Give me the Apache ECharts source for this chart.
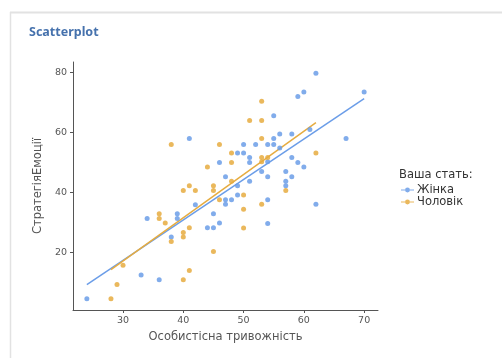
<!DOCTYPE html>
<html>
<head>
<meta charset="utf-8">
<script src="https://cdn.jsdelivr.net/npm/echarts@6/dist/echarts.min.js"></script>
<style>
html,body{margin:0;padding:0;background:#fff;}
#chart{width:502px;height:358px;}
</style>
</head>
<body>
<div id="chart"></div>
<script>
// ---- data ----
const groupNames = ['Жінка', 'Чоловік'];
const womenX = [24,33,36,34,39,39,38,42,44,45,45,46,47,47,48,47,49,49,51,53,54,54,54,57,58,57,57,62,46,41,49,50,51,51,54,50,52,54,55,55,56,56,58,58,59,60,61,55,59,60,62,67,70];
const womenY = [4.7,12.6,11,31.4,33,31.4,25.2,36,28.3,28.3,33,29.9,45.3,37.6,37.6,36.1,42.3,39.2,43.8,47,45.3,37.6,29.7,47,45.3,43.8,42.3,36.1,50,58,53.2,53.2,51.7,50,50.3,56,56,56,56,58,54.8,59.5,59.5,51.7,50,48.5,61,65.6,72,73.5,79.7,58,73.5];
const menX = [28,29,30,36,36,37,38,40,40,41,40,41,38,40,41,42,45,45,44,46,46,45,48,48,48,50,50,50,53,57,53,54,53,53,51,53,53,62];
const menY = [4.7,9.4,15.8,33,31.4,29.9,23.7,26.7,25.2,28.3,11,14.1,56,40.7,42.3,40.7,42.3,40.7,48.5,56,37.6,20.4,43.8,50,53.2,39.2,34.5,28.2,36.1,40.7,51.7,51.7,50.3,58,64,64,70.4,53.2];
const xTicks = [30, 40, 50, 60, 70];
const yTicks = [20, 40, 60, 80];
const xTitle = 'Особистісна тривожність';
const yTitle = 'СтратегіяЕмоції';
const legendTitle = 'Ваша стать:';
const chartTitle = 'Scatterplot';

// ---- helpers ----
function pairs(xs, ys){ return xs.map((x,i)=>[x, ys[i]]); }
function fit(xs, ys){
  const n = xs.length;
  const mx = xs.reduce((a,b)=>a+b,0)/n, my = ys.reduce((a,b)=>a+b,0)/n;
  let sxy=0, sxx=0;
  for(let i=0;i<n;i++){ sxy+=(xs[i]-mx)*(ys[i]-my); sxx+=(xs[i]-mx)*(xs[i]-mx); }
  const b = sxy/sxx, a = my - b*mx;
  const x0 = Math.min(...xs), x1 = Math.max(...xs);
  return [[x0, a+b*x0],[x1, a+b*x1]];
}
function expand(arr){
  const lo = Math.min(...arr), hi = Math.max(...arr), d = (hi-lo)*0.05;
  return [lo-d, hi+d];
}
const allX = womenX.concat(menX), allY = womenY.concat(menY);
const xr = expand(allX), yr = expand(allY);

const blue = '#6B9DE8', orange = '#E6AC40';
const legendIcon = 'path://M0,4.4 L16,4.4 L16,5.6 L0,5.6 Z M8,2 A3,3 0 1 1 7.99,2 Z';

const chart = echarts.init(document.getElementById('chart'), null, {renderer:'canvas'});
chart.setOption({
  animation: false,
  backgroundColor: '#fff',
  graphic: [
    {type:'line', shape:{x1:10, y1:12.5, x2:502, y2:12.5}, style:{stroke:'#e2e2e2', lineWidth:2}, silent:true},
    {type:'line', shape:{x1:10.5, y1:12, x2:10.5, y2:358}, style:{stroke:'#e2e2e2', lineWidth:1.5}, silent:true}
  ],
  title: [
    {text: chartTitle, left: 24, top: 21, textStyle:{fontFamily:'Noto Sans', fontWeight:'bold', fontSize:12.5, color:'#4672AD'}},
    {text: legendTitle, left: 394, top: 164, textStyle:{fontFamily:'DejaVu Sans', fontWeight:'normal', fontSize:11.5, color:'#333'}}
  ],
  legend: {
    orient:'vertical', left: 396, top: 179, itemGap: 0, itemWidth: 13, itemHeight: 8,
    textStyle:{fontFamily:'DejaVu Sans', fontSize:11.5, color:'#333', padding:[0,0,0,-2]},
    data: [{name:groupNames[0], icon:legendIcon}, {name:groupNames[1], icon:legendIcon}]
  },
  grid: {left: 73, right: 124, top: 62, bottom: 48, containLabel:false},
  xAxis: {
    type:'value', min: xr[0], max: xr[1],
    name: xTitle, nameLocation:'middle', nameGap: 17,
    nameTextStyle:{fontFamily:'DejaVu Sans', fontSize:11.5, color:'#555'},
    axisLine:{show:true, onZero:false, lineStyle:{color:'#555', width:1}},
    axisTick:{show:true, length:3, lineStyle:{color:'#555'}, customValues: xTicks},
    axisLabel:{fontFamily:'DejaVu Sans', fontSize:9.5, color:'#555', margin:6, customValues: xTicks},
    splitLine:{show:false}
  },
  yAxis: {
    type:'value', min: yr[0], max: yr[1],
    name: yTitle, nameLocation:'middle', nameGap: 23, nameRotate: 90,
    nameTextStyle:{fontFamily:'DejaVu Sans', fontSize:11.5, color:'#555'},
    axisLine:{show:true, onZero:false, lineStyle:{color:'#555', width:1}},
    axisTick:{show:true, length:3, lineStyle:{color:'#555'}, customValues: yTicks},
    axisLabel:{fontFamily:'DejaVu Sans', fontSize:9.5, color:'#555', margin:6, customValues: yTicks},
    splitLine:{show:false}
  },
  series: [
    {name:groupNames[0], type:'scatter', data: pairs(womenX, womenY), symbolSize:5, itemStyle:{color:blue, opacity:0.85}, z:3},
    {name:groupNames[1], type:'scatter', data: pairs(menX, menY), symbolSize:5, itemStyle:{color:orange, opacity:0.85}, z:3},
    {name:groupNames[0], type:'line', data: fit(womenX, womenY), showSymbol:false, symbol:'none', lineStyle:{color:blue, width:1.5}, itemStyle:{color:blue}, z:2},
    {name:groupNames[1], type:'line', data: fit(menX, menY), showSymbol:false, symbol:'none', lineStyle:{color:orange, width:1.5}, itemStyle:{color:orange}, z:2}
  ]
});
</script>
</body>
</html>
